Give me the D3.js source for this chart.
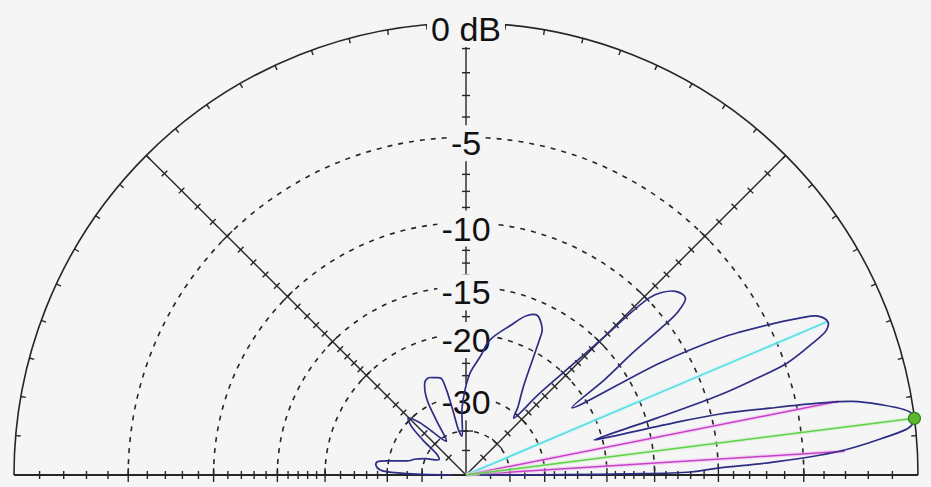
<!DOCTYPE html>
<html lang="en">
<head>
<meta charset="UTF-8">
<title>Elevation Pattern</title>
<script src="https://d3js.org/d3.v7.min.js"></script>
<style>
  * { margin: 0; padding: 0; }
  body { background: #f5f5f5; }
  svg { display: block; }
</style>
</head>
<body>
<svg id="chart" width="931" height="487"></svg>
<script>
// elevation angle (deg) and gain (dB)
const patternAngles = [0, 0.2, 0.4, 0.77, 1.6, 2.4, 3.55, 5.0, 6.2, 7.2, 8.1, 9.7, 10.8, 11.5, 12.4, 13.5, 14.1, 15.0, 15.3,
  16.6, 17.5, 18.3, 19.2, 20.7, 21.9, 22.9, 24.3, 25.2, 27.6, 28.3, 30.0, 32.4,
  34.5, 36.2, 37.0, 37.6, 38.9, 41.2, 43.0, 44.0, 45.1, 46.1, 48.0, 50.0,
  52.6, 57.0, 61.6, 62.3, 66.0, 69.0, 73.6, 80.0, 83.2, 87.8, 90.7, 93.4, 96.0,
  99.0, 101.5, 103.0, 104.5, 108.0, 111.0, 113.5, 116.0, 117.5, 118.5, 120.0,
  124.0, 128.0, 132.0, 135.5, 138.0, 141.0, 145.0,
  150.0, 158.0, 163.0, 166.0, 169.0, 171.7, 174.0, 176.7, 178.5, 180.0];
const patternGains = [-60, -26, -18, -12, -9.9, -6.6, -3.4, -1.4, -0.2, 0, -0.15, -1.3, -2.4, -3.9, -6.4, -9.4, -12.9, -20.0, -21.0,
  -14.0, -9.1, -6.9, -4.9, -3.5, -2.6, -2.4, -2.7, -3.5, -6.6, -7.7, -12.0, -22.0,
  -17.0, -13.5, -10.5, -9.0, -8.1, -8.3, -9.0, -9.8, -14.9, -18.9, -24.4, -31.0,
  -28.6, -25.0, -18.3, -17.4, -16.3, -16.7, -18.3, -20.5, -22.9, -25.6, -28.7, -32.8, -42.0,
  -40.0, -33.0, -28.0, -25.9, -25.5, -25.2, -25.5, -27.0, -29.0, -34.0, -42.0,
  -40.0, -36.0, -31.5, -29.5, -31.0, -36.0, -44.0,
  -46.0, -40.0, -36.5, -35.0, -31.0, -27.7, -27.6, -28.5, -34.0, -60];

// rings, labels and ticks of the ARRL log scale
const ringDb = [-5, -10, -15, -20, -30, -40];
const labelDb = [0, -5, -10, -15, -20, -30];
const labelText = ["0 dB", "-5", "-10", "-15", "-20", "-30"];
const tickDb = [-1, -2, -3, -4, -5, -6, -7, -8, -9, -10, -11, -12, -13, -14, -15, -16, -17, -18, -19, -20,
  -22, -24, -26, -28, -30, -35, -40, -50];
const rimTickAngles = [5, 10, 15, 20, 25, 30, 35, 40, 45, 50, 55, 60, 65, 70, 75, 80, 85, 90,
  95, 100, 105, 110, 115, 120, 125, 130, 135, 140, 145, 150, 155, 160, 165, 170, 175];

// marker lines
const halfPowerAngles = [3.6, 11.2];
const halfPowerDb = -3;
const maxAngle = 7.2;
const maxDb = 0;
const cursorAngle = 23;
const cursorDb = -2.45;

const bg = "#f5f5f5";
const cx = 466, cy = 475, R = 452;

const svg = d3.select("#chart");
svg.append("rect").attr("width", 931).attr("height", 487).attr("fill", bg);

// dB -> radius: every 2 dB is 0.89 of the radius
const radial = d3.scaleLog().domain([R * Math.pow(0.89, 20), R]).range([-40, 0]);
const rOf = db => radial.invert(db);
const theta = d3.scaleLinear().domain([0, 180]).range([Math.PI / 2, -Math.PI / 2]);

const pt = (el, r) => [r * Math.sin(theta(el)), -r * Math.cos(theta(el))];

const g = svg.append("g").attr("transform", `translate(${cx},${cy})`);
const grid = g.append("g").attr("stroke", "#262626").attr("fill", "none");

function halfCircle(r) {
  const p = d3.path();
  p.arc(0, 0, r, Math.PI, 2 * Math.PI);
  return p.toString();
}

// dashed rings
grid.selectAll(".ring")
  .data(ringDb)
  .join("path")
  .attr("class", "ring")
  .attr("d", d => halfCircle(rOf(d)))
  .attr("stroke-width", 1.6)
  .attr("stroke-dasharray", "5,6");

// outer rim and baseline
grid.append("path").attr("d", halfCircle(R)).attr("stroke-width", 1.6);
grid.append("line").attr("x1", -R).attr("x2", R).attr("stroke-width", 2);

// spokes
grid.selectAll(".spoke")
  .data([45, 90, 135])
  .join("line")
  .attr("class", "spoke")
  .attr("x2", d => pt(d, R)[0])
  .attr("y2", d => pt(d, R)[1])
  .attr("stroke-width", 1.4);

// rim ticks
grid.selectAll(".rimtick")
  .data(rimTickAngles)
  .join("line")
  .attr("class", "rimtick")
  .attr("x1", d => pt(d, R - 5)[0])
  .attr("y1", d => pt(d, R - 5)[1])
  .attr("x2", d => pt(d, R)[0])
  .attr("y2", d => pt(d, R)[1])
  .attr("stroke-width", 1.4);

// radial ticks on baseline, spokes and vertical axis
const tickAxes = [0, 45, 90, 135, 180];
const tickData = [];
tickAxes.forEach(a => tickDb.forEach(db => tickData.push({ a, db })));
grid.selectAll(".rtick")
  .data(tickData)
  .join("line")
  .attr("class", "rtick")
  .each(function (d) {
    const [x, y] = pt(d.a, rOf(d.db));
    const len = ringDb.includes(d.db) ? 7 : 4;
    const t = theta(d.a);
    const nx = Math.cos(t), ny = Math.sin(t);
    d3.select(this)
      .attr("x1", x - nx * len).attr("y1", y - ny * len)
      .attr("x2", x + nx * len).attr("y2", y + ny * len);
  })
  .attr("stroke-width", 1.4);

// ring labels with background
const labels = g.append("g");
labelDb.forEach((db, i) => {
  const lg = labels.append("g");
  const txt = lg.append("text")
    .attr("x", 0)
    .attr("y", -rOf(db) + 18)
    .attr("text-anchor", "middle")
    .attr("font-family", "Arial, 'Liberation Sans', sans-serif")
    .attr("font-size", 34)
    .attr("fill", "#111")
    .text(labelText[i]);
  const b = txt.node().getBBox();
  lg.insert("rect", "text")
    .attr("x", b.x - 4).attr("y", b.y + 1)
    .attr("width", b.width + 8).attr("height", b.height - 2)
    .attr("fill", bg);
});

// marker lines
const markers = g.append("g").attr("fill", "none");
function ray(angle, db, color, halo) {
  const [x, y] = pt(angle, rOf(db));
  markers.append("line").attr("x2", x).attr("y2", y)
    .attr("stroke", halo).attr("stroke-width", 4).attr("stroke-opacity", 0.5);
  markers.append("line").attr("x2", x).attr("y2", y)
    .attr("stroke", color).attr("stroke-width", 1.5);
}
ray(cursorAngle, cursorDb, "#4fdce4", "#bff3f5");
halfPowerAngles.forEach(a => ray(a, halfPowerDb, "#c840c8", "#f2b6f2"));
ray(maxAngle, maxDb, "#5fd04a", "#c6f0bc");

// pattern
const pattern = patternAngles.map((a, i) => ({ a, db: patternGains[i] }));
const line = d3.lineRadial()
  .angle(d => theta(d.a))
  .radius(d => rOf(d.db))
  .curve(d3.curveCatmullRom.alpha(0.5));
g.append("path")
  .datum(pattern)
  .attr("d", line)
  .attr("fill", "none")
  .attr("stroke", "#2d2d84")
  .attr("stroke-width", 1.7)
  .attr("stroke-linejoin", "round");

// max gain dot
const [mx, my] = pt(maxAngle, rOf(maxDb));
g.append("circle")
  .attr("cx", mx).attr("cy", my).attr("r", 6)
  .attr("fill", "#5cb82e")
  .attr("stroke", "#2f7a1c")
  .attr("stroke-width", 1.2);
</script>
</body>
</html>
